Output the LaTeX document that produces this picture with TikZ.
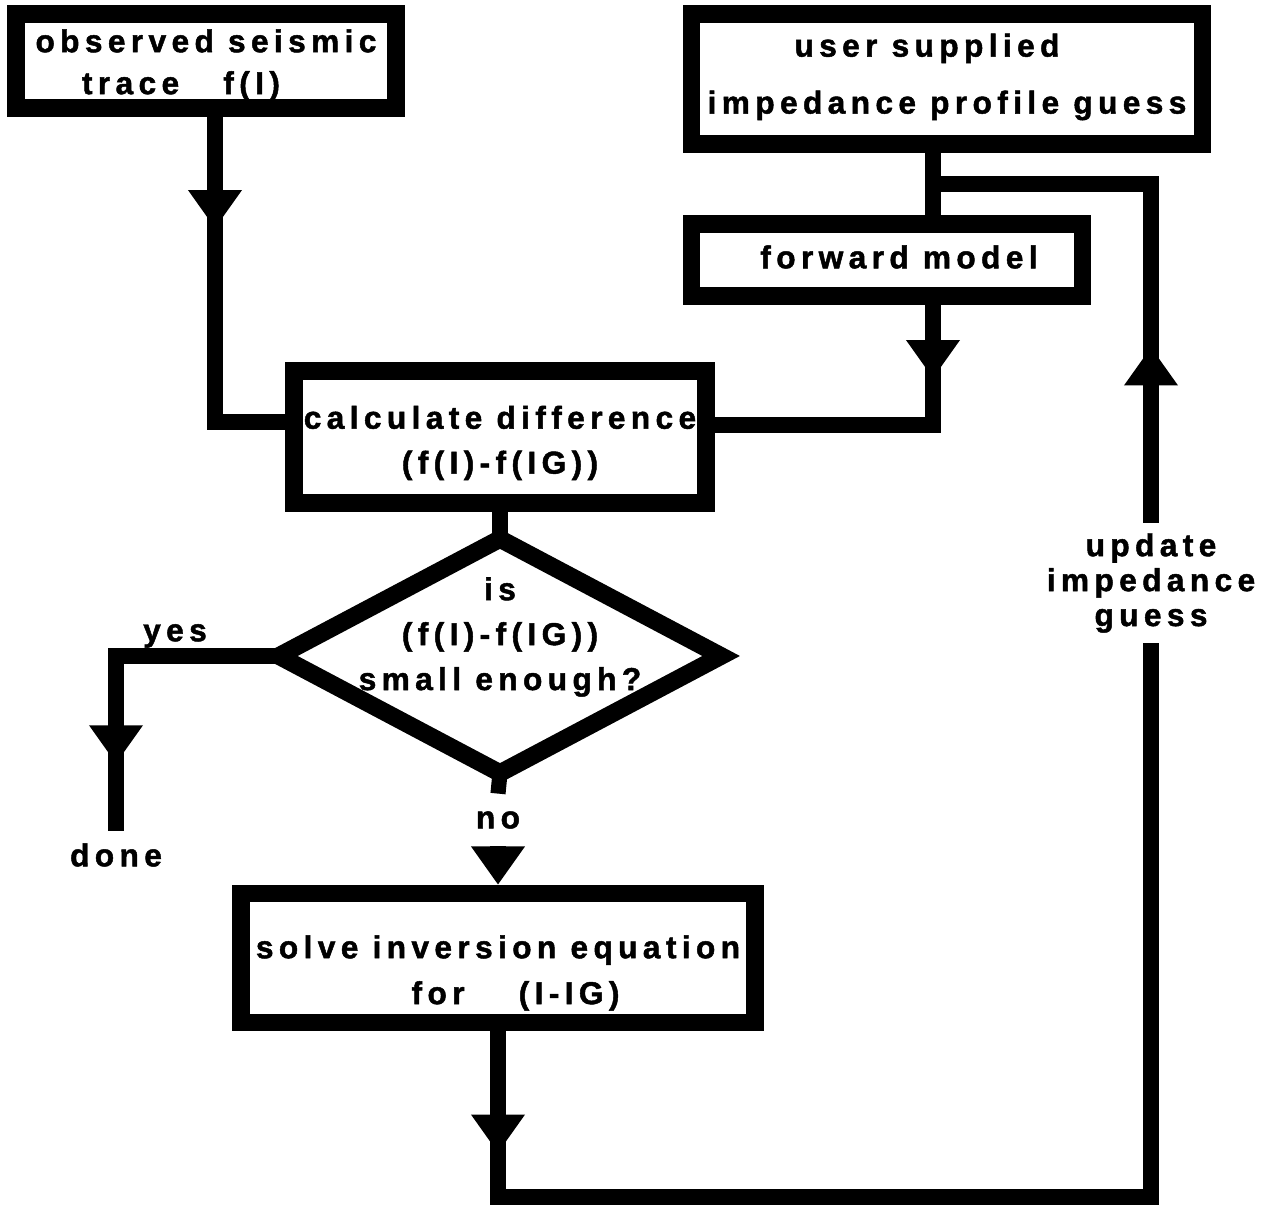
\documentclass[tikz,border=0pt]{standalone}
\usepackage{fontspec}
\newfontfamily\flow{Liberation Sans}[LetterSpace=17, BoldFeatures={FakeBold=1.5}]
\usepackage{tikz}
\usetikzlibrary{arrows.meta,shapes.geometric,decorations.markings}

\begin{document}
\begin{tikzpicture}[x=0.01cm, y=-0.01cm,
  font=\fontsize{9}{10.5}\selectfont\flow\bfseries,
  >={Triangle[width=0.54cm, length=0.38cm, line width=0pt]},
  blk/.style={draw, line width=5pt, inner sep=0pt, outer sep=0pt},
  txt/.style={align=center, inner sep=0pt},
  ln/.style={line width=4.3pt},
  mid/.style={postaction={decorate}, decoration={markings, mark=at position #1 with {\arrow{>}}}}]
\useasboundingbox (0,0) rectangle (1278,1210);
% boxes
\node[blk, minimum width=3.8cm, minimum height=0.94cm,
  label={[txt, yshift=-0.04cm]center:{observed seismic\\[0.05cm]trace\hspace{0.3cm} f(I)\hspace*{0.5cm}}}] (obs) at (206,61) {};
\node[blk, minimum width=5.11cm, minimum height=1.3cm,
  label={[txt, yshift=0.02cm]center:{user supplied\hspace*{0.4cm}\\[0.2cm]impedance profile guess}}] (usr) at (947,79) {};
\node[blk, minimum width=3.91cm, minimum height=0.72cm,
  label={[txt, xshift=0.12cm, yshift=0.03cm]center:{forward model}}] (fwd) at (887,260) {};
\node[blk, minimum width=4.12cm, minimum height=1.32cm,
  label={[txt, yshift=-0.06cm]center:{calculate difference\\[0.08cm](f(I)-f(IG))}}] (calc) at (500,437) {};
\node[draw, diamond, line width=5pt, inner sep=0pt, outer sep=0pt, minimum width=4.42cm, minimum height=2.34cm] (dia) at (500,656) {};
\node[txt] (ask) at (500,637) {is\\[0.08cm](f(I)-f(IG))\\[0.08cm]small enough?};
\node[blk, minimum width=5.14cm, minimum height=1.29cm,
  label={[txt, yshift=-0.15cm]center:{solve inversion equation\\[0.09cm]\hspace*{0.35cm}for\hspace{0.4cm} (I-IG)}}] (solve) at (498,958) {};
% labels
\node (yes) at (175,636) {yes};
\node (done) at (116,855) {done};
\node[inner ysep=0.17cm] (no) at (498,820) {no};
\node[txt, inner ysep=0.1cm] (upd) at (1151,583) {update\\[-0.02cm]impedance\\[-0.02cm]guess};
\coordinate (tap) at (933,184);
\coordinate (loop) at (1151,1197);
% connectors
\draw[ln, mid=1.2cm] ([xshift=0.09cm]obs.south) |- ([yshift=0.15cm]calc.west);
\draw[ln] (tap |- usr.south) -- (tap |- fwd.north);
\draw[ln, mid=0.82cm] (tap |- fwd.south) |- ([yshift=0.12cm]calc.east);
\draw[ln] (calc.south) -- (dia.north);
\draw[ln, mid=2.7cm] (dia.west) -| (done.north);
\draw[ln] (dia.south) -- (no.north);
\draw[ln, ->, shorten >=0.09cm] (no.south) -- (solve.north);
\draw[ln, mid=1.3cm] (solve.south) |- (loop) -- (upd.south);
\draw[ln, mid=1.75cm] (upd.north) |- (tap);
\end{tikzpicture}
\end{document}
